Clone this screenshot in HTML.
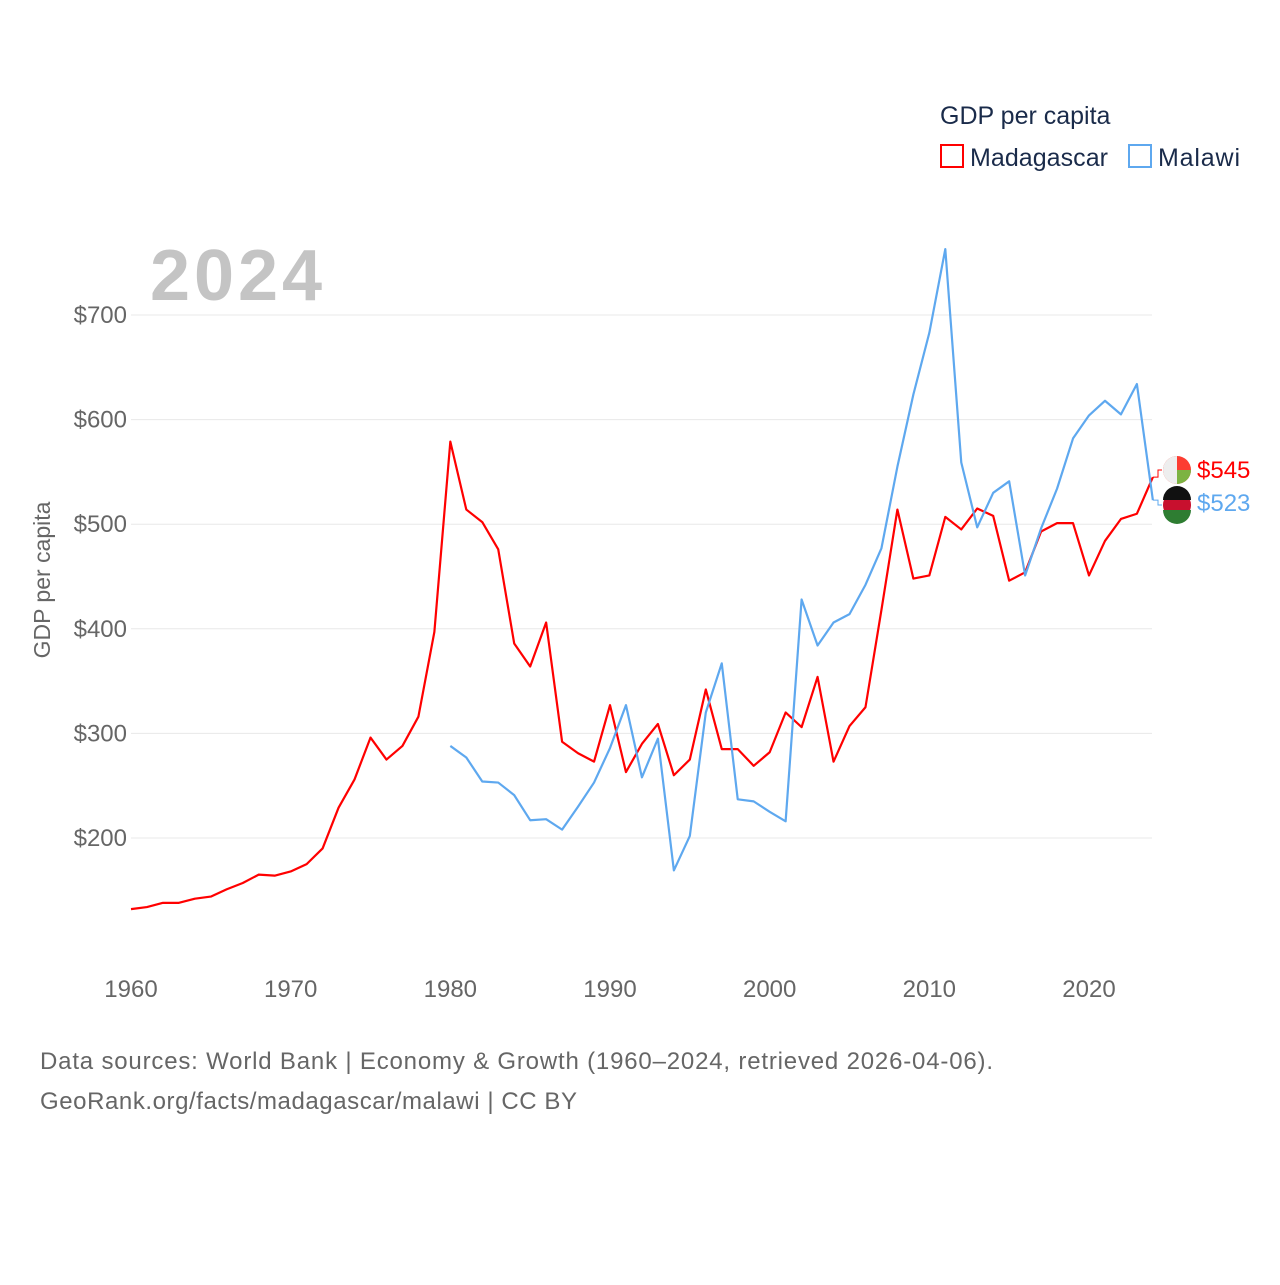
<!DOCTYPE html>
<html><head><meta charset="utf-8"><style>
body{margin:0;background:#fff;font-family:"Liberation Sans",sans-serif}
</style></head><body>
<svg width="1280" height="1280" xmlns="http://www.w3.org/2000/svg" font-family="Liberation Sans, sans-serif">
<text x="940" y="124" font-size="25" fill="#1a2b4a">GDP per capita</text>
<rect x="941" y="145" width="22" height="22" fill="none" stroke="#f00" stroke-width="2"/>
<text x="970" y="166" font-size="25" fill="#1a2b4a" textLength="138">Madagascar</text>
<rect x="1129" y="145" width="22" height="22" fill="none" stroke="#5ea8ef" stroke-width="2"/>
<text x="1158" y="166" font-size="25" fill="#1a2b4a" textLength="82">Malawi</text>
<text x="150" y="300" font-size="72" font-weight="bold" fill="#c4c4c4" textLength="172">2024</text>
<g id="grid"></g><g id="yt"></g><g id="xt"></g><g id="lines"></g>
<text transform="translate(50,580) rotate(-90)" text-anchor="middle" font-size="23" fill="#666">GDP per capita</text>
<text x="40" y="1069" font-size="24" fill="#666" textLength="953">Data sources: World Bank | Economy &amp; Growth (1960–2024, retrieved 2026-04-06).</text>
<text x="40" y="1109" font-size="24" fill="#666" textLength="537">GeoRank.org/facts/madagascar/malawi | CC BY</text>
</svg>
<script>
const years=[];for(let y=1960;y<=2024;y++)years.push(y);
const madagascar=[132,134,138,138,142,144,151,157,165,164,168,175,190,229,256,296,275,288,316,397,579,514,502,476,386,364,406,292,281,273,327,263,290,309,260,275,342,285,285,269,282,320,306,354,273,307,325,418,514,448,451,507,495,515,508,446,454,493,501,501,451,484,505,510,545];
const malawiStart=1980;
const malawi=[288,277,254,253,241,217,218,208,230,253,286,327,258,295,169,202,320,367,237,235,225,216,428,384,406,414,442,477,555,624,683,763,559,497,530,541,451,496,534,582,604,618,605,634,523];
const yTicks=[200,300,400,500,600,700];
const xTicks=[1960,1970,1980,1990,2000,2010,2020];
const NS='http://www.w3.org/2000/svg';
const X=y=>131+(y-1960)*958/60;
const Y=v=>838-(v-200)*1.046;
function mk(t,a,p){const e=document.createElementNS(NS,t);for(const k in a)e.setAttribute(k,a[k]);document.getElementById(p).appendChild(e);return e;}
yTicks.forEach(v=>{
const l=mk('line',{x1:131,x2:1152,y1:Y(v),y2:Y(v),stroke:'#e8e8e8','stroke-width':1},'grid');


const t=mk('text',{x:127,y:Y(v)+8,'text-anchor':'end','font-size':24,fill:'#666'},'yt');t.textContent='$'+v;


});
xTicks.forEach(y=>{
const t=mk('text',{x:X(y),y:997,'text-anchor':'middle','font-size':24,fill:'#666'},'xt');t.textContent=y;


});
const pm=madagascar.map((v,i)=>X(years[i])+','+Y(v)).join(' ');
const l1=mk('polyline',{points:pm,fill:'none',stroke:'#f00','stroke-width':2.2,'stroke-linejoin':'round'},'lines');


const pw=malawi.map((v,i)=>X(malawiStart+i)+','+Y(v)).join(' ');
const l2=mk('polyline',{points:pw,fill:'none',stroke:'#5ea8ef','stroke-width':2.2,'stroke-linejoin':'round'},'lines');


const mEnd=madagascar[madagascar.length-1], wEnd=malawi[malawi.length-1];
const c1=mk('polyline',{points:`${X(2024)},${Y(mEnd)} 1158,${Y(mEnd)} 1158,470 1162,470`,fill:'none',stroke:'#f00','stroke-width':1},'lines');


const c2=mk('polyline',{points:`${X(2024)},${Y(wEnd)} 1158,${Y(wEnd)} 1158,505 1162,505`,fill:'none',stroke:'#5ea8ef','stroke-width':1},'lines');


const f1=mk('circle',{cx:1177,cy:470,r:14,fill:'#fc3d32'},'lines');


mk('path',{d:'M1177 470 h14 a14 14 0 0 1 -14 14 z',fill:'#7cb342'},'lines');
mk('path',{d:'M1177 456 a14 14 0 0 0 0 28 z',fill:'#eee'},'lines');
const f2=mk('circle',{cx:1177,cy:505,r:14,fill:'#c8102e'},'lines');


mk('path',{d:'M1163 500 a14 14 0 0 1 28 0 z',fill:'#111'},'lines');
mk('path',{d:'M1163 510 h28 a14 14 0 0 1 -28 0 z',fill:'#2e7d32'},'lines');
const e1=mk('text',{x:1197,y:478,'font-size':24,fill:'#f00'},'lines');e1.textContent='$'+mEnd;


const e2=mk('text',{x:1197,y:511,'font-size':24,fill:'#5ea8ef'},'lines');e2.textContent='$'+wEnd;


</script>
</body></html>
